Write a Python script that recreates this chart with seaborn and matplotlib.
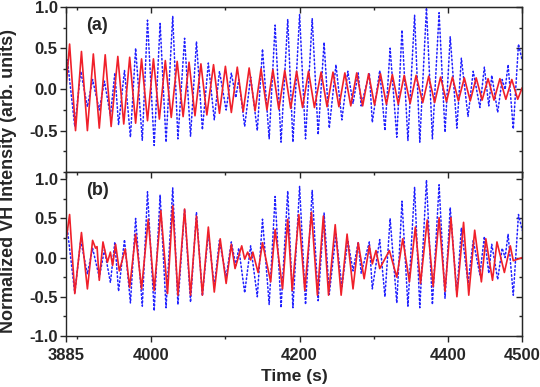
import numpy as np
import pandas as pd
import matplotlib
matplotlib.use("Agg")
import matplotlib.pyplot as plt
import seaborn as sns

# extrema (time in s, normalized intensity)
red_a_t = [3885, 3890, 3898, 3906, 3914, 3922, 3930, 3938, 3946, 3955, 3963, 3971, 3979, 3987,
           3995, 4003, 4011, 4019, 4027, 4035, 4043, 4051, 4059, 4067, 4075, 4084, 4092, 4100,
           4108, 4116, 4124, 4132, 4140, 4148, 4156, 4164, 4172, 4180, 4188, 4196, 4204, 4212,
           4220, 4229, 4237, 4245, 4253, 4261, 4269, 4277, 4285, 4293, 4301, 4309, 4317, 4325,
           4333, 4341, 4349, 4357, 4366, 4374, 4382, 4390, 4398, 4406, 4414, 4422, 4430, 4438,
           4446, 4454, 4462, 4470, 4478, 4486, 4494, 4500]
red_a_v = [0.00, 0.55, -0.50, 0.46, -0.50, 0.43, -0.47, 0.42, -0.45, 0.40, -0.42, 0.39, -0.41, 0.37,
           -0.38, 0.37, -0.36, 0.35, -0.34, 0.34, -0.33, 0.33, -0.32, 0.31, -0.31, 0.30, -0.29, 0.28,
           -0.28, 0.27, -0.27, 0.26, -0.26, 0.25, -0.25, 0.24, -0.24, 0.23, -0.23, 0.22, -0.22, 0.22,
           -0.22, 0.21, -0.21, 0.21, -0.21, 0.20, -0.20, 0.20, -0.20, 0.19, -0.19, 0.19, -0.18, 0.18,
           -0.18, 0.17, -0.17, 0.17, -0.16, 0.16, -0.16, 0.15, -0.15, 0.15, -0.14, 0.14, -0.14, 0.14,
           -0.13, 0.13, -0.13, 0.13, -0.12, 0.12, -0.12, 0.02]

blue_t = [3885, 3887, 3897, 3905, 3914, 3921, 3930, 3937, 3945, 3951, 3956, 3964, 3972, 3979,
          3988, 3995, 4004, 4012, 4020, 4029, 4036, 4045, 4053, 4061, 4069, 4077, 4085, 4092,
          4101, 4108, 4114, 4118, 4126, 4134, 4143, 4150, 4159, 4167, 4175, 4184, 4191, 4200,
          4208, 4217, 4225, 4233, 4240, 4249, 4257, 4265, 4272, 4279, 4283, 4294, 4298, 4308,
          4315, 4322, 4331, 4338, 4346, 4355, 4362, 4371, 4379, 4388, 4396, 4403, 4412, 4418,
          4427, 4434, 4443, 4449, 4455, 4459, 4467, 4473, 4477, 4481, 4488, 4495, 4500]
blue_v = [0.25, 0.36, -0.45, 0.22, -0.21, 0.12, -0.25, 0.10, -0.32, 0.20, -0.43, 0.23, -0.58, 0.50,
          -0.62, 0.84, -0.68, 0.80, -0.64, 0.89, -0.60, 0.62, -0.57, 0.58, -0.49, 0.32, -0.37, 0.22,
          -0.25, 0.20, -0.10, 0.12, -0.45, 0.15, -0.50, 0.49, -0.60, 0.78, -0.64, 0.85, -0.64, 0.91,
          -0.60, 0.86, -0.55, 0.57, -0.47, 0.30, -0.37, 0.22, -0.17, 0.20, -0.20, 0.20, -0.40, 0.23,
          -0.50, 0.50, -0.58, 0.72, -0.62, 0.90, -0.64, 0.99, -0.60, 0.93, -0.52, 0.64, -0.47, 0.38,
          -0.33, 0.22, -0.22, 0.27, -0.20, 0.17, -0.28, 0.12, 0.00, 0.30, -0.48, 0.55, 0.35]

red_b_t = [3885, 3890, 3897, 3906, 3914, 3921, 3925, 3927, 3930, 3935, 3941, 3945, 3948, 3952,
           3957, 3965, 3971, 3979, 3987, 3996, 4004, 4013, 4022, 4029, 4036, 4045, 4053, 4061,
           4069, 4077, 4085, 4093, 4101, 4108, 4113, 4122, 4126, 4130, 4134, 4137, 4144, 4150,
           4161, 4167, 4177, 4184, 4190, 4199, 4207, 4216, 4224, 4232, 4239, 4248, 4256, 4264,
           4272, 4279, 4287, 4294, 4298, 4303, 4308, 4321, 4331, 4339, 4348, 4356, 4363, 4372,
           4380, 4388, 4396, 4404, 4412, 4421, 4428, 4436, 4445, 4451, 4460, 4466, 4476, 4484,
           4488, 4500]
red_b_v = [0.20, 0.55, -0.46, 0.32, -0.40, 0.22, 0.12, 0.14, -0.29, 0.20, -0.06, 0.07, -0.10, 0.17,
           -0.17, 0.11, -0.38, 0.30, -0.40, 0.49, -0.42, 0.60, -0.46, 0.66, -0.48, 0.62, -0.48, 0.53,
           -0.48, 0.39, -0.44, 0.24, -0.33, 0.17, -0.14, 0.15, -0.02, 0.07, -0.03, 0.07, -0.19, 0.19,
           -0.31, 0.36, -0.40, 0.49, -0.42, 0.55, -0.42, 0.58, -0.48, 0.53, -0.48, 0.42, -0.48, 0.30,
           -0.40, 0.19, -0.27, 0.15, -0.08, 0.09, -0.14, 0.09, -0.25, 0.24, -0.31, 0.39, -0.33, 0.48,
           -0.37, 0.51, -0.43, 0.51, -0.50, 0.45, -0.48, 0.35, -0.31, 0.24, -0.29, 0.20, -0.19, 0.15,
           -0.04, 0.00]

x_major = [3885, 4000, 4200, 4400, 4500]
x_minor = [3900, 4100, 4300]

sns.set_style("ticks")
plt.rcParams["font.family"] = ["Liberation Sans", "DejaVu Sans"]
plt.rcParams["font.weight"] = "bold"

RED = "#f0202a"
BLUE = "#2020ff"

fig = plt.figure(figsize=(5.4, 3.87), dpi=100)
ax_a = fig.add_axes([0.122, 0.556, 0.845, 0.426])
ax_b = fig.add_axes([0.122, 0.132, 0.845, 0.424])


def draw_panel(ax, red_t, red_v, label, ylim, yticks):
    sns.lineplot(x=blue_t, y=blue_v, ax=ax, color=BLUE, lw=1.1, linestyle=":",
                 estimator=None, sort=False, dash_joinstyle="round", dash_capstyle="round")
    sns.lineplot(x=red_t, y=red_v, ax=ax, color=RED, lw=1.2,
                 estimator=None, sort=False, solid_joinstyle="round")
    ax.set_xlim(3885, 4500)
    ax.set_ylim(*ylim)
    ax.set_xticks(x_major)
    ax.set_xticks(x_minor, minor=True)
    ax.set_yticks(yticks)
    ax.set_yticks(np.arange(-1.0, 1.01, 0.25), minor=True)
    ax.set_yticklabels([f"{v:.1f}" for v in yticks])
    ax.tick_params(which="major", direction="out", length=4, width=1, labelsize=12, pad=2)
    ax.tick_params(which="minor", direction="out", length=2.2, width=1)
    for side in ["top", "right"]:
        ax.spines[side].set_visible(True)
    for s in ax.spines.values():
        s.set_linewidth(1.0)
    top = ax.secondary_xaxis("top")
    top.set_xticks(x_major)
    top.set_xticks(x_minor, minor=True)
    top.tick_params(which="both", direction="in", labeltop=False, width=1)
    top.tick_params(which="major", length=4)
    top.tick_params(which="minor", length=2.2)
    right = ax.secondary_yaxis("right")
    right.set_yticks(yticks)
    right.set_yticks(np.arange(-1.0, 1.01, 0.25), minor=True)
    right.tick_params(which="both", direction="in", labelright=False, width=1)
    right.tick_params(which="major", length=4)
    right.tick_params(which="minor", length=2.2)
    ax.set_xlabel("")
    ax.set_ylabel("")
    ax.text(0.045, 0.94, label, transform=ax.transAxes, fontsize=13,
            fontweight="bold", va="top", ha="left")


draw_panel(ax_a, red_a_t, red_a_v, "(a)", (-1.0, 1.0), [-0.5, 0.0, 0.5, 1.0])
draw_panel(ax_b, red_b_t, red_b_v, "(b)", (-1.0, 1.095), [-1.0, -0.5, 0.0, 0.5, 1.0])
ax_a.tick_params(axis="x", labelbottom=False)
ax_b.tick_params(axis="x", pad=5)

fig.text(0.016, 0.532, "Normalized VH Intensity (arb. units)", rotation=90,
         fontsize=13, fontweight="bold", ha="center", va="center")
fig.text(0.545, 0.028, "Time (s)", fontsize=12.5, fontweight="bold",
         ha="center", va="center")

fig.savefig("out.png", dpi=100)
